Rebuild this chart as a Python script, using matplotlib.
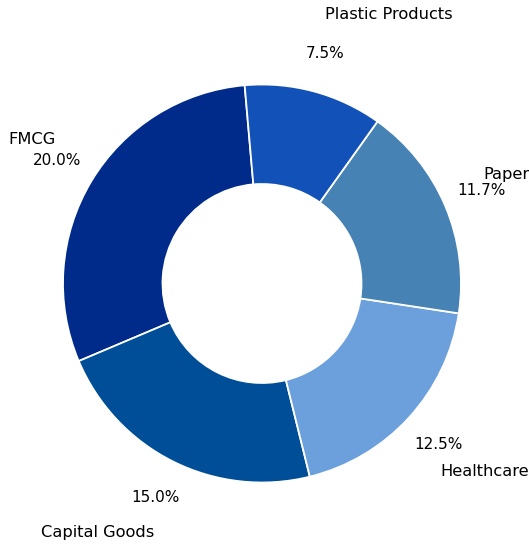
import matplotlib
matplotlib.use('Agg')
import matplotlib.pyplot as plt

# sector shares (%), as printed on the chart
sectors = ['FMCG', 'Capital Goods', 'Healthcare', 'Paper', 'Plastic Products']
shares = [20.0, 15.0, 12.5, 11.7, 7.5]
colors = ['#002B8A', '#004E98', '#6CA0DC', '#4682B4', '#1151B8']

total = sum(shares)

fig = plt.figure(figsize=(5.29, 5.45), dpi=100)
ax = fig.add_axes([13.25 / 529, 12.75 / 545, 497.5 / 529, 497.5 / 545])

wedges, texts, autotexts = ax.pie(
    shares,
    labels=sectors,
    colors=colors,
    startangle=95,
    labeldistance=1.21,
    pctdistance=1.2,
    autopct=lambda p: '{:.1f}%'.format(p * total / 100),
    wedgeprops=dict(width=0.5, edgecolor='white', linewidth=1.3),
    textprops=dict(fontsize=11),
)

# push the category names a bit further up/down so they clear the percentages
for t in texts:
    x, y = t.get_position()
    t.set_position((x, y * 1.157))
    t.set_fontsize(11.7)

ax.set_aspect('equal')

plt.savefig('out.png', dpi=100)
